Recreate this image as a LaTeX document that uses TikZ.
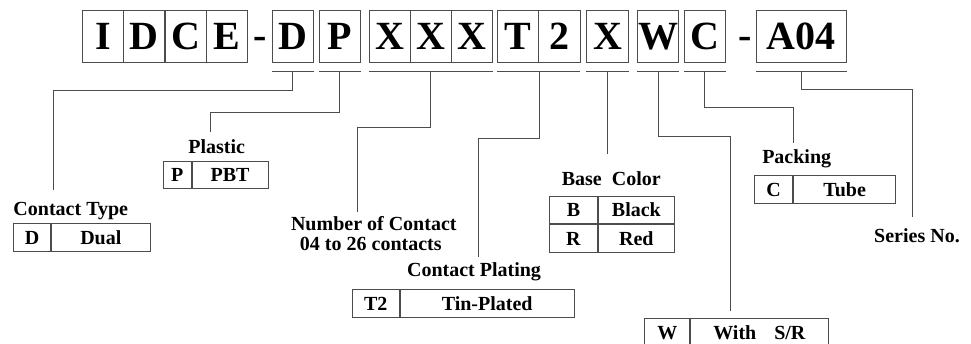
\documentclass[tikz,border=0pt]{standalone}
\usepackage{fontspec}
\setmainfont{Liberation Serif}
\usepackage{tikz}
\usetikzlibrary{positioning}

\begin{document}
\begin{tikzpicture}[x=1pt,y=-1pt,
  code/.style={draw=black!70,line width=0.9pt,minimum height=52,inner sep=0pt,
    font=\fontsize{40}{40}\bfseries\selectfont,text height=27.5pt,text depth=0pt},
  tcell/.style={draw=black!70,line width=0.9pt,minimum height=27.7,inner sep=0pt,
    font=\fontsize{20}{22}\bfseries\selectfont,text height=13.5pt,text depth=0pt},
  lbl/.style={font=\fontsize{20}{22}\bfseries\selectfont,inner sep=0pt,anchor=base},
  link/.style={draw=black!70,line width=0.9pt}]
  \path[use as bounding box,fill=white] (0,0) rectangle (971,343);
  \clip (0,0) rectangle (971,343);

  \foreach \n/\x/\t in {cI/103.25/I,cDa/144.35/D,cCa/185.45/C,cE/226.55/E,
      cD/292.65/D,cP/339.65/P,cXa/389.8/X,cXb/430.8/X,cXc/471.8/X,
      cT/518.3/T,cTwo/559.4/2,cX/607.5/X,cW/658.15/W,cC/704.85/C}
    \node[code,minimum width=41.2] (\n) at (\x,36) {\t};
  \node[code,minimum width=90.7] (cA) at (801.35,36) {A04};
  \node[font=\fontsize{40}{40}\bfseries\selectfont,inner sep=0pt,anchor=base] (dash1) at (260,48.3) {-};
  \node[font=\fontsize{40}{40}\bfseries\selectfont,inner sep=0pt,anchor=base] (dash2) at (745,48.3) {-};

  \foreach \a/\b in {cD/cD,cP/cP,cXa/cXc,cT/cTwo,cX/cX,cW/cW,cC/cC,cA/cA}
    \draw[link] ([yshift=-8.7pt]\a.south west) -- ([yshift=-8.7pt]\b.south east);

  \coordinate (uD) at ([yshift=-8.7pt]cD.south);
  \coordinate (uP) at ([yshift=-8.7pt]cP.south);
  \coordinate (uX) at ([yshift=-8.7pt]cXb.south);
  \coordinate (uT) at ([yshift=-8.7pt]cT.south east);
  \coordinate (uB) at ([yshift=-8.7pt]cX.south);
  \coordinate (uW) at ([yshift=-8.7pt]cW.south);
  \coordinate (uC) at ([yshift=-8.7pt]cC.south);
  \coordinate (uA) at ([yshift=-8.7pt]cA.south);

  \coordinate (typeIn) at (53.3,190);
  \coordinate (plasIn) at (210,132);
  \coordinate (numIn) at (357.7,212.3);
  \coordinate (platIn) at (478,256.7);
  \coordinate (baseIn) at (607.5,154);
  \coordinate (srIn) at (730,310.7);
  \coordinate (packIn) at (793.3,143.3);
  \coordinate (serIn) at (912.7,216.7);

  \draw[link] (uD) -- ++(0,19.3) -| (typeIn);
  \draw[link] (uP) -- ++(0,41.3) -| (plasIn);
  \draw[link] (uX) -- ++(0,56.6) -| (numIn);
  \draw[link] (uT) -- ++(0,67.6) -| (platIn);
  \draw[link] (uB) -- (baseIn);
  \draw[link] (uW) -- ++(0,65.3) -| (srIn);
  \draw[link] (uC) -- ++(0,36.6) -| (packIn);
  \draw[link] (uA) -- ++(0,18.6) -| (serIn);

  \node[lbl] (typeLbl) at (70.8,215) {Contact Type};
  \node[tcell,minimum width=36.7,anchor=north west] (typeK) at (13.3,223) {D};
  \node[tcell,minimum width=99,anchor=west] (typeV) at (typeK.east) {Dual};

  \node[lbl] (plasLbl) at (216.7,153.3) {Plastic};
  \node[tcell,minimum width=28,anchor=north west] (plasK) at (162.7,160.7) {P};
  \node[tcell,minimum width=76,anchor=west] (plasV) at (plasK.east) {PBT};

  \node[lbl] (numLbl) at (373.8,230) {Number of Contact};
  \node[lbl] (numSub) at (370.8,250) {04 to 26 contacts};

  \node[lbl] (platLbl) at (474,276) {Contact Plating};
  \node[tcell,minimum width=47.3,anchor=north west] (platK) at (351.7,289.3) {T2};
  \node[tcell,minimum width=173.7,anchor=west] (platV) at (platK.east) {Tin-Plated};

  \node[lbl] (baseLbl) at (611.3,185) {Base\ \ Color};
  \node[tcell,minimum width=47.4,anchor=north west] (baseK1) at (549.3,195.7) {B};
  \node[tcell,minimum width=76.6,anchor=west] (baseV1) at (baseK1.east) {Black};
  \node[tcell,minimum width=47.4,anchor=north] (baseK2) at (baseK1.south) {R};
  \node[tcell,minimum width=76.6,anchor=west] (baseV2) at (baseK2.east) {Red};

  \node[lbl] (packLbl) at (796.7,163.3) {Packing};
  \node[tcell,minimum width=38.3,anchor=north west] (packK) at (754,175) {C};
  \node[tcell,minimum width=102,anchor=west] (packV) at (packK.east) {Tube};

  \node[lbl] (serLbl) at (917,242.7) {Series No.};

  \node[tcell,minimum width=45,anchor=north west] (srK) at (644.3,318.3) {W};
  \node[tcell,minimum width=137.4,anchor=west] (srV) at (srK.east) {With\hspace{0.9em}S/R};
\end{tikzpicture}
\end{document}
